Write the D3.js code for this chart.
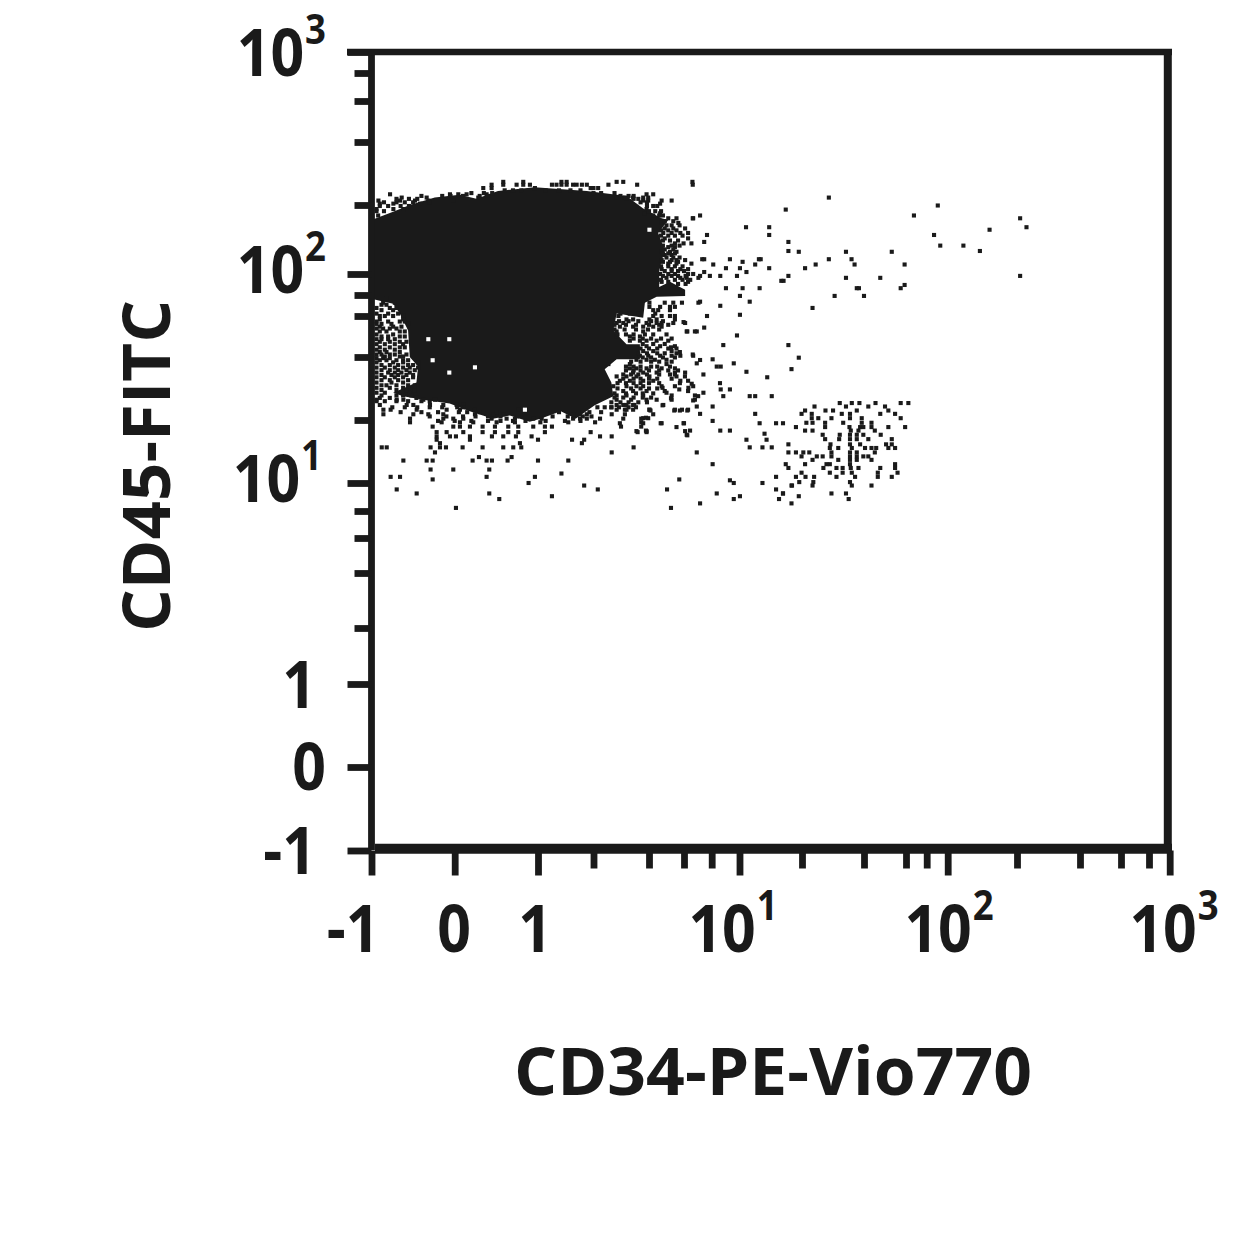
<!DOCTYPE html>
<html><head><meta charset="utf-8">
<script src="https://cdn.jsdelivr.net/npm/d3@7/dist/d3.min.js"></script>
<style>html,body{margin:0;padding:0;background:#fff}svg{display:block}</style>
</head><body><svg id="c" width="1250" height="1250"></svg>
<script>
// ---- axes
const xTitle = "CD34-PE-Vio770";
const yTitle = "CD45-FITC";
const majorTicks = [-1,0,1,10,100,1000];
const minorTicks = [2,4,6,8,20,40,60,80,200,400,600,800];
const calibration = [-1,0,1,2,4,6,8,10,20,40,60,80,100,200,400,600,800,1000];
const xCalibrationPx = [371.5,454.7,538,593.5,649,684,711.7,739.5,802,864,906,926.7,947.7,1017,1080,1121,1149,1169.7];
const yCalibrationPx = [850.5,767,684,628,573,538,511,483,420,357,316,295,274,205,142,101,73,52];

// ---- dense population outline [CD34, CD45]
const populationOutline = [[-1,172],[-.74,187],[-.54,200],[-.24,217],[.06,224],[.26,214],[.52,233],[.96,243],[1.84,233],[3.02,221],[3.72,193],[4.63,175],[5,172],[4.45,151],[4.8,127],[4.5,104],[4.5,87],[5.1,92],[6.07,84.5],[6.07,79],[4.37,78],[3.8,72],[3.72,59],[2.67,62],[2.56,52],[3.02,45.4],[3.57,45.4],[3.57,39],[2.67,39],[2.3,35],[2.5,30.2],[2.56,26],[2.03,23.5],[1.6,20.3],[1.33,22],[1.03,20.3],[.9,19.6],[.66,21],[.46,20.3],[.18,22],[-.06,24],[-.38,25],[-.62,26],[-.74,27],[-.46,30.2],[-.44,36],[-.54,40],[-.56,52],[-.66,62],[-.74,71],[-.9,74],[-1,76]];

// ---- empty cells inside the dense population
const gapEvents = [[-.317,47.7],[-.065,47.7],[-.265,38.6],[.243,35.7],[-.065,33.7],[4.02,156],[.843,22.4]];

// ---- events by row: [CD45, [CD34 ...]]
const leftEdgeRows = [[76,[-.82]],[70,[-.88,-.82]],[65,[-.88,-.74]],[60,[-.9,-.84,-.74,-.62]],[58,[-.9,-.62]],[55.5,[-.94,-.88,-.76,-.56]],[53,[-.94,-.86,-.78,-.7]],[50,[-.94,-.74]],[47.7,[-.94,-.88,-.8,-.72]],[45.4,[-.94,-.84,-.72,-.62]],[43,[-.94,-.84,-.72]],[41,[-.94,-.88,-.78,-.72,-.58]],[39.5,[-.94,-.86,-.78]],[37.7,[-.94,-.74,-.62,-.44]],[35.6,[-.94,-.84,-.72,-.62,-.54,-.44]],[33.7,[-.94,-.8,-.72,-.64,-.54]],[32,[-.94,-.84,-.72,-.62,-.5]],[30.2,[-.94,-.76,-.62]],[28.5,[-.94,-.78,-.62]],[27,[-.94,-.84,-.54]],[25.5,[-.9,-.78,-.46]]];
const leftDenseRows = [[72,[-.86,-.72]],[67,[-.94,-.78,-.7]],[62,[-.94,-.8,-.68]],[56.8,[-.94,-.8,-.66,-.6]],[54,[-.9,-.74,-.64]],[51.5,[-.9,-.82,-.66,-.6]],[49,[-.88,-.8,-.66,-.6]],[46.5,[-.9,-.78,-.66,-.58]],[44,[-.9,-.78,-.66,-.6]],[42,[-.9,-.82,-.66]],[40.2,[-.84,-.66,-.62]],[38.6,[-.9,-.82,-.7,-.62,-.56]],[36.6,[-.88,-.78,-.68,-.56,-.5]],[34.6,[-.88,-.78,-.68,-.58,-.48]],[32.8,[-.88,-.76,-.68,-.58,-.5]],[31,[-.88,-.78,-.68,-.56]],[29.3,[-.88,-.82,-.7,-.56,-.48]],[27.8,[-.88,-.7,-.58,-.48]],[26.2,[-.88,-.7,-.62,-.52]],[24.6,[-.94,-.84,-.7,-.56,-.4,-.3]]];

const topEdgeRows = [[258,[.583,.823,1.34,1.43,2.67,2.9,6.55]],[250,[.443,.583,.743,.823,.903,1.19,1.26,1.34,1.43,1.55,1.62,1.73,1.84,2.41,3.45]],[241,[.343,.443,.963,1.93,2,2.12]],[225,[-.777,-.057,.043,.143,.383,3.88,4.2]],[217,[-.637,-.337,.283,2.67,2.96,3.28,3.72,3.96]],[210,[-.917,-.657,-.477,-.317,-.017,3.72,3.96,4.63,5.2]],[203,[-.9,-.737,-.417,4.55]],[192,[-.737,-.617,-.94,3.88]],[184,[3.8,4.55]]];
const topDenseRows = [[235,[.6,.7,.8,1.1,1.3,1.5,1.7]],[228,[.2,.35,.45,2,2.2,2.6]],[221,[-.4,-.15,-.05,.1,.3,.4,2.8,3.1,3.3]],[214,[-.7,-.55,-.45,3,3.3,3.5]],[206,[-.85,-.7,-.6,-.5,-.3,3.6,3.9]],[198,[-.9,-.8,-.65,-.55,3.9,4.2,4.4]],[188,[-.94,-.85,4,4.3,4.6]],[180,[-.92,4.2,4.5,4.7]]];

const rightEdgeRows = [[175,[5,5.5,6.6]],[167,[4.63,5.62]],[158,[4.8,5.3,6.07]],[151,[4.72,5.2,5.75,6.26]],[143,[4.8,6.26]],[136,[5.4,5.97,6.48]],[131,[5,5.4]],[125,[4.63,5.1,5.5]],[121,[4.8,5.2]],[115,[4.63,5.2,5.5,6.07]],[111,[5,5.5,6.48]],[105,[4.63,5.2,5.75,6.26]],[100,[4.55,5,5.4,6.26,6.6]],[96,[4.9,5.75,6.17,6.97]],[92,[4.63,5,6.26]],[72,[4.02,4.8,5.86,5.3,6.97]],[68,[4.02,4.55,5.1,5.4]],[65,[4.2,4.45,5.1]],[60,[2.73,4.2,4.63,5.1,5.4]],[58,[3.02,3.28,4.02,4.37,5.4]],[56,[2.67,2.9,3.88,4.37,4.63,5.3,6.07]],[54,[2.78,3.28,3.72,4.2,4.63]],[51.5,[2.67,3.72,6.17,6.72]],[49,[2.67,3.15,3.57]],[47,[3.15,3.57,3.88,4.37,5]],[44.5,[3.88,4.55,5.4]],[42.4,[3.72,4.2,5.2]],[40.5,[3.57,3.96,4.55,5.2,5.75,6.6]],[38.8,[3.42,3.88,4.28,4.9]],[37,[2.41,3.15,4.9]],[35.3,[3.15,3.42,3.88,4.63,5.4]],[33.7,[3.28,3.72,4.37,5.4,6.07]],[32.3,[2.67,3.02,3.42,4.02,5.5]],[30.8,[2.78,3.15,3.72,4.2,5.75,6.26]],[29,[2.56,3.02,3.42,3.72,4.63,5.4,6.6]],[27.5,[2.9,3.28,3.88,4.8,6.26]],[26.2,[2.67,3.02,3.72,5.2,6.72]],[25,[2.67,3.2,3.88,4.37,5.2,6.72]],[23.6,[2.9,3.28,4.72]],[22.4,[2.67,2.96,4.02,5.4,5.86,6.26]],[20.4,[3.72,3.96]],[19.3,[2.78,3.72,4.63,5.97]],[17.7,[3.42,3.88,6.07]],[17,[6.17]]];
const rightDenseRows = [[170,[4.8,5.3]],[163,[4.9,5.2,5.7]],[155,[4.6,5,5.5]],[147,[4.6,5,5.4,5.9]],[140,[4.7,5.1,5.6]],[133,[4.7,5.2,5.7]],[128,[4.8,5.3]],[123,[4.7,5,5.4]],[118,[4.9,5.3,5.7]],[113,[4.7,5.1,5.6]],[108,[4.6,5,5.4,5.9]],[103,[4.8,5.2,5.6,6]],[98,[4.7,5.2,5.6,6.1]],[94,[4.6,5.4,5.9,6.4]],[90,[5.6,6.1]],[62,[2.8,3.15,3.5,4.3]],[57,[2.75,3.1,3.5,4.1,4.7]],[55,[2.6,3,3.4,4,4.5,5]],[52.5,[2.6,2.95,3.4,3.95,4.5]],[50,[2.7,3,3.3,3.8,4.2,4.9]],[48,[3.3,3.7,4.1,4.6,5.2]],[45.5,[3.7,4.2,4.8]],[43.5,[3.6,4,4.4,5,5.5]],[41.5,[3.5,3.9,4.4,4.8,5.5]],[39.8,[3.7,4.1,4.7,5.4]],[38,[3.2,3.6,4.1,4.5,5.2]],[36,[3,3.3,3.6,4.1,4.4,5.1]],[34.5,[3,3.3,3.6,4,4.5,5,5.6]],[33,[2.9,3.2,3.5,3.9,4.5,5.1]],[31.5,[2.9,3.3,3.6,4,4.4,5.2]],[30,[2.7,3,3.3,3.6,4,4.5]],[28.3,[2.7,3.2,3.6,4,4.4]],[26.8,[2.6,3,3.4,3.7,4.2]],[25.6,[2.6,2.9,3.3,3.7,4.1]],[24.3,[2.5,2.8,3.1,3.5,3.9]],[23,[2.5,2.75,3.1,3.4]]];

const lowerEdgeRows = [[25,[-.94,-.697,-.617,-.377,-.237]],[23.6,[-.9,-.577,-.497,-.297,-.137,.023,.103,2.67,3.02,3.33]],[22.4,[-.857,-.77,-.457,-.097,.063,.243,.843,.763,3.02,3.28,4.02]],[21.3,[-.857,-.497,-.317,-.137,.243,.463,.583,1.55,1.69,1.84,2.51,2.96,4.2]],[20.3,[-.537,-.137,-.017,.103,.443,.623,.723,.943,1.047,1.55,1.69,1.84,2.17,2.9,3.63]],[19.5,[-.537,-.157,.063,.223,.503,.723,1.03,1.46,2.04,3.63]],[18.6,[-.265,.335,.183,-.017,.063,.483,.643,.763,.943,1.09,1.19,2.82,3.63]],[17.5,[-.217,-.097,.103,.335,.483,.643,.763,1.09,1.93,3.47,3.88]],[16.7,[-.217,-.057,.015,.183,.447,.583,.735,.923,2.17,2.51]],[16.1,[-.217,.183,1,1.53,1.78]],[15.5,[-.177,.783,1.73]],[14.8,[-.877,-.817,-.29,-.177,-.105,.095,.335,.583,.703,.799,3.3]],[14,[-.237,2.51]],[13.3,[.291,.683]],[12.8,[-.617,-.265,-.337,.215,.383,.447,.635,1,1.46]],[11.6,[-.29,-.017,.415]],[11.1,[1.34]],[10.7,[-.77,-.657,.383,.963]],[10.4,[-.265]],[10,[.887]],[9.8,[1.78]],[9.5,[-.697,2.11]],[9.2,[-.457,.415]],[9,[1.19]],[8.8,[.535]],[8.2,[.015]]];
const lowerDenseRows = [[23,[-.75,-.6,-.45,-.3,-.15,.03,.1,2.1,2.3,2.5]],[21.8,[-.65,-.4,-.2,.05,.15,.3,.35,.5,1.3,1.65,1.9,2.2]],[20.8,[-.3,-.1,.1,.25,.4,.55,.75,1.2,1.45,1.75,1.95]],[19.8,[-.2,0,.2,.4,.55,.7,.85,1.1,1.4,1.7]]];

const clusterRows = [[24.1,[57,62,30.5,34.9,38,44.7]],[23.2,[23,32.7,41.7,49]],[22.2,[20.7,26,28.3,36.9,50.6]],[21.4,[19.9,22.3,31.2,34.2,46.8,54]],[20.4,[22.3,24,27.8,39,34.2,57]],[19.4,[21,22.5,25.9,31.7,39,43]],[18.5,[25.9,34,38.3,39.7,43,50.6,59.5]],[17.8,[20.7,22.5,34.5,37.6,44.4]],[17,[25.2,30.5,34.2,36.9,39.7,47]],[16.2,[25.9,30.3,34.2,36.9,41.7,52.3]],[15.3,[27.5,34.2,38.3,49.5,52.3]],[14.7,[27.3,30,34.9,40.4,43,45,50.6,54]],[14,[17.2,18.7,20.3,21.7,27.8,34.2,36.9,44.4]],[13.4,[19.9,23.6,25.2,27.8,34.2,36.9,39.7,41.7]],[12.9,[22.5,30,34.2,36.9,43]],[12.3,[16.7,20.7,26.3,27.3,34.2,54]],[11.8,[17.2,25.4,29.4,31.5,34.5,37.6,46.8,54]],[11.2,[19.9,27.3,31.5,34.9,45.7,55.3]],[10.7,[18.7,20.8,22.9,29.4,36.2,45.7,52.3]],[10.1,[19.4,22.7,34.2]],[9.8,[17.9,22.5,34.9,43]],[9.2,[16.2,27.8,32.7]],[8.8,[33.7]]];

// ---- sparse events [CD34, CD45]
const sparseEvents = [[6.57,250],[27,217],[90,199],[16.7,191],[67,180],[7.09,180],[6.57,175],[207,175],[10.75,160],[13.9,160],[222,160],[152,156],[86.5,148],[13.9,148],[7.62,148],[92.4,133],[117,133],[17.2,138],[7.4,138],[138,126],[17.2,126],[19.3,125],[32.7,125],[52.3,125],[27,116],[34.8,116],[9.26,116],[7.25,116],[7.4,116],[12.65,116],[12.4,116],[8.1,110],[36,110],[59.2,110],[11.9,110],[23.3,110],[10.35,113],[20.7,106],[13.9,106],[8.97,106],[10.05,106],[10.8,102],[7.4,102],[207,98],[17.2,98],[7.85,98],[8.57,98],[9.8,98],[7.09,98],[32.7,96],[46.8,96],[15.9,93],[16.3,93],[59.2,89],[57,86],[36.9,86],[37.8,86],[8.97,86],[10.35,86],[12.5,86],[28.8,79],[40,79],[10.05,79],[11.2,73],[7.09,73],[8.57,69],[22.5,67],[7.62,60],[10.05,61],[5.97,56.5],[7.4,53.5],[6.21,51.5],[6.85,51.5],[9.8,49.5],[17.2,45],[8.78,45],[5.16,44],[5.72,42],[6.57,41],[19.3,39.7],[8.06,39],[7.09,38.7],[9.55,37.3],[6.85,37.3],[8.33,36],[8.6,36],[17.8,35],[10.8,34],[13.6,32],[7.34,33],[5.4,33],[6.06,32.3],[8.55,30],[8.6,28],[9.26,28],[5.72,30],[6.5,29.8],[6.28,28.5],[5.68,28],[4.68,28.5],[7.34,27],[8.78,26],[11.2,26],[11.9,26],[14.3,26],[6.95,26],[6.6,24.8],[5.16,25.4],[4.9,27],[4.68,23.5],[8.06,23.2],[6.85,23.2],[6.21,22.2],[5.72,22.2],[5.36,22.2],[4.07,22.2],[7.09,21.4],[11.9,21.4],[8.06,19.8],[12.5,19.3],[15,19.3],[16.2,19.3],[6,19.3],[3.85,20.5],[4.58,19.3],[5.5,18.5],[18.7,18.5],[3.85,17.8],[6.39,17.8],[8.57,17.8],[9.26,17.8],[6.21,16.9],[13.2,17.2],[13.5,16.1],[10.8,16.1],[11.2,14.8],[12.9,14.8],[14.3,14.8],[17.2,15.3],[6.85,14],[8.06,12.3],[5.68,10.4],[9.26,10.3],[9.55,10],[12.9,10],[15,10.7],[4.93,9.5],[15,9.5],[17.8,9.8],[8.33,9.2],[16.2,9.2],[15.5,8.8],[9.55,8.8],[7.09,8.5],[17.8,8.5],[5.16,8.2],[10.05,9],[19.3,9]];

// ---- scales
const hlog = v => v <= 1 ? v : 1 + Math.log2(v);
const xHlog = d3.scaleLinear().domain(calibration.map(hlog)).range(xCalibrationPx);
const yHlog = d3.scaleLinear().domain(calibration.map(hlog)).range(yCalibrationPx);
const x = v => xHlog(hlog(v));
const y = v => yHlog(hlog(v));

const INK = "#1a1a1a", FONT = "'Open Sans', sans-serif";
const svg = d3.select("#c");
const plot = svg.append("g");

// dense population
plot.append("path")
  .attr("d", d3.line().x(d => x(d[0])).y(d => y(d[1]))(populationOutline) + "Z")
  .attr("fill", INK);

// events
const rows = [leftEdgeRows, leftDenseRows, topEdgeRows, topDenseRows, rightEdgeRows, rightDenseRows, lowerEdgeRows, lowerDenseRows, clusterRows];
const events = rows.flatMap(group => group.flatMap(([cd45, list]) => list.map(cd34 => [cd34, cd45]))).concat(sparseEvents);
const CELL = 4.1;
plot.selectAll("rect.ev").data(events).join("rect").attr("class", "ev")
  .attr("x", d => x(d[0]) - CELL/2).attr("y", d => y(d[1]) - CELL/2)
  .attr("width", CELL).attr("height", CELL).attr("fill", INK);
plot.selectAll("rect.gap").data(gapEvents).join("rect").attr("class", "gap")
  .attr("x", d => x(d[0]) - CELL/2).attr("y", d => y(d[1]) - CELL/2)
  .attr("width", CELL).attr("height", CELL).attr("fill", "#fff");

// frame
const frame = svg.append("g").attr("stroke", INK).attr("fill", "none");
frame.append("path").attr("d", "M371.5,49V850").attr("stroke-width", 6.8);
frame.append("path").attr("d", "M347,52H1172").attr("stroke-width", 6.6);
frame.append("path").attr("d", "M1167.8,49V848").attr("stroke-width", 8);
frame.append("path").attr("d", "M375,848.7H1172").attr("stroke-width", 10);

// ticks through d3 axes
function ticks(axisFn, scale, values, size, transform) {
  const g = svg.append("g").attr("transform", transform)
    .call(axisFn(scale).tickValues(values.map(hlog)).tickSize(size).tickFormat(""));
  g.select(".domain").remove();
  g.selectAll("line").attr("stroke", INK).attr("stroke-width", 6.8);
}
ticks(d3.axisBottom, xHlog, majorTicks, 25, "translate(0,850.5)");
ticks(d3.axisBottom, xHlog, minorTicks, 18, "translate(0,850.5)");
ticks(d3.axisLeft, yHlog, majorTicks, 24, "translate(371.5,0)");
ticks(d3.axisLeft, yHlog, minorTicks, 17, "translate(371.5,0)");

// tick labels
const labelText = { "-1": ["-1"], "0": ["0"], "1": ["1"], "10": ["10","1"], "100": ["10","2"], "1000": ["10","3"] };
const xLabelCenter = { "-1": 353, "0": 454, "1": 535, "10": 733, "100": 949, "1000": 1174 };
const yLabelRight  = { "-1": 316, "0": 326, "1": 316, "10": 322, "100": 326, "1000": 326 };
const yBaselineGap = { "-1": 23, "0": 23, "1": 24, "10": 19, "100": 19, "1000": 24 };
const LABEL_SIZE = 67, SQUEEZE = 0.88;
function label(parent, v, px, py, anchor) {
  const t = parent.append("text")
    .attr("transform", `translate(${px},${py}) scale(${SQUEEZE},1)`)
    .attr("text-anchor", anchor).attr("font-family", FONT).attr("font-weight", 700)
    .attr("font-size", LABEL_SIZE).attr("fill", INK);
  const [base, sup] = labelText[v];
  t.append("tspan").text(base);
  if (sup) t.append("tspan").attr("font-size", LABEL_SIZE * 0.62).attr("dy", -32).attr("dx", 1).text(sup);
}
const labels = svg.append("g");
majorTicks.forEach(v => {
  label(labels, v, xLabelCenter[v], 952, "middle");
  label(labels, v, yLabelRight[v], y(v) + yBaselineGap[v], "end");
});

// titles
svg.append("text").attr("x", 514).attr("y", 1095).text(xTitle)
  .attr("font-family", FONT).attr("font-weight", 700).attr("font-size", 67).attr("fill", INK)
  .attr("textLength", 518).attr("lengthAdjust", "spacingAndGlyphs");
svg.append("text").attr("transform", "translate(170,632) rotate(-90)").text(yTitle)
  .attr("font-family", FONT).attr("font-weight", 700).attr("font-size", 67).attr("fill", INK)
  .attr("textLength", 332).attr("lengthAdjust", "spacingAndGlyphs");
</script></body></html>
